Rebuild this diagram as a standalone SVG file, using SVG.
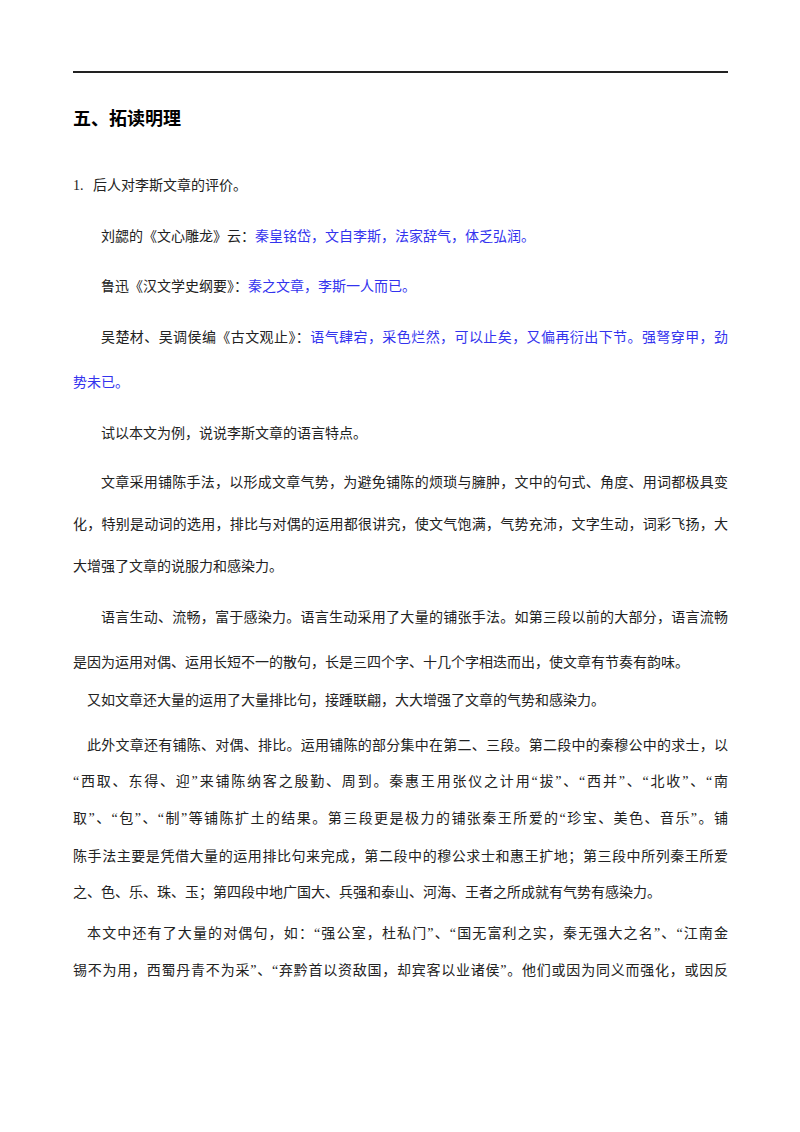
<svg xmlns="http://www.w3.org/2000/svg" width="800" height="1132" viewBox="0 0 800 1132">
<style>
text{font-family:"Liberation Serif","Noto Sans CJK SC",serif;font-size:14px;fill:#222}
.b{fill:#3333ee}
.h{font-size:18px;font-weight:bold;fill:#000}
</style>
<rect width="800" height="1132" fill="#fff"/>
<line x1="73" y1="72" x2="728" y2="72" stroke="#222" stroke-width="2"/>
<text class="h" x="73" y="125">五、拓读明理</text>
<text x="73" y="190">1.</text>
<text x="93" y="190">后人对李斯文章的评价。</text>
<text x="101" y="241">刘勰的《文心雕龙》云：<tspan class="b">秦皇铭岱，文自李斯，法家辞气，体乏弘润。</tspan></text>
<text x="101" y="291">鲁迅《汉文学史纲要》：<tspan class="b">秦之文章，李斯一人而已。</tspan></text>
<text x="101" y="342" textLength="627" lengthAdjust="spacing">吴楚材、吴调侯编《古文观止》：<tspan class="b">语气肆宕，采色烂然，可以止矣，又偏再衍出下节。强弩穿甲，劲</tspan></text>
<text class="b" x="73" y="387">势未已。</text>
<text x="101" y="438">试以本文为例，说说李斯文章的语言特点。</text>
<text x="101" y="487" textLength="627" lengthAdjust="spacing">文章采用铺陈手法，以形成文章气势，为避免铺陈的烦琐与臃肿，文中的句式、角度、用词都极具变</text>
<text x="73" y="529" textLength="655" lengthAdjust="spacing">化，特别是动词的选用，排比与对偶的运用都很讲究，使文气饱满，气势充沛，文字生动，词彩飞扬，大</text>
<text x="73" y="571">大增强了文章的说服力和感染力。</text>
<text x="101" y="622" textLength="627" lengthAdjust="spacing">语言生动、流畅，富于感染力。语言生动采用了大量的铺张手法。如第三段以前的大部分，语言流畅</text>
<text x="73" y="667">是因为运用对偶、运用长短不一的散句，长是三四个字、十几个字相迭而出，使文章有节奏有韵味。</text>
<text x="87" y="705">又如文章还大量的运用了大量排比句，接踵联翩，大大增强了文章的气势和感染力。</text>
<text x="87" y="750" textLength="641" lengthAdjust="spacing">此外文章还有铺陈、对偶、排比。运用铺陈的部分集中在第二、三段。第二段中的秦穆公中的求士，以</text>
<text x="73" y="786" textLength="655" lengthAdjust="spacing">“西取、东得、迎”来铺陈纳客之殷勤、周到。秦惠王用张仪之计用“拔”、“西并”、“北收”、“南</text>
<text x="73" y="823" textLength="655" lengthAdjust="spacing">取”、“包”、“制”等铺陈扩土的结果。第三段更是极力的铺张秦王所爱的“珍宝、美色、音乐”。铺</text>
<text x="73" y="861" textLength="655" lengthAdjust="spacing">陈手法主要是凭借大量的运用排比句来完成，第二段中的穆公求士和惠王扩地；第三段中所列秦王所爱</text>
<text x="73" y="897">之、色、乐、珠、玉；第四段中地广国大、兵强和泰山、河海、王者之所成就有气势有感染力。</text>
<text x="87" y="938" textLength="641" lengthAdjust="spacing">本文中还有了大量的对偶句，如：“强公室，杜私门”、“国无富利之实，秦无强大之名”、“江南金</text>
<text x="73" y="975" textLength="655" lengthAdjust="spacing">锡不为用，西蜀丹青不为采”、“弃黔首以资敌国，却宾客以业诸侯”。他们或因为同义而强化，或因反</text>
</svg>
